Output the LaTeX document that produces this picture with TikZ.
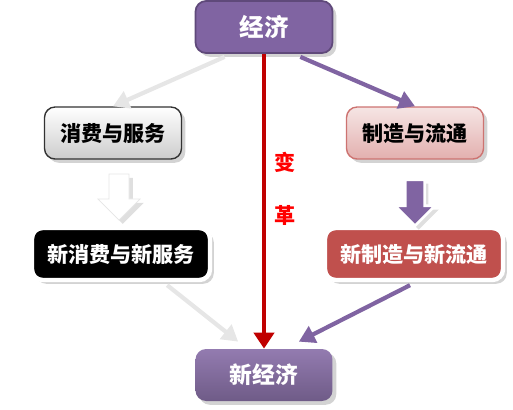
\documentclass[tikz,border=0pt]{standalone}
\usepackage{fontspec}
\usepackage{xcolor}
\usetikzlibrary{arrows.meta,positioning,calc,shadows,shapes.arrows}
\newfontfamily\cjk{Noto Sans CJK SC}
\definecolor{Purple}{HTML}{8064A2}
\definecolor{PurpleDark}{HTML}{5F497A}
\definecolor{Rose}{HTML}{C0504D}
\definecolor{Ink}{HTML}{000000}
\definecolor{Pale}{HTML}{E6E6E6}
\definecolor{Crimson}{HTML}{C00000}

\begin{document}
\begin{tikzpicture}[x=0.02cm,y=-0.02cm,
    box/.style={rounded corners=6pt, minimum width=2.74cm, minimum height=1.04cm,
      font=\cjk\bfseries\fontsize{12}{14}\selectfont, drop shadow={opacity=0.35}},
    flow/.style={line width=2.4pt, -{Triangle[length=3.2mm,width=3.6mm]}},
    blockarrow/.style={single arrow, shape border rotate=270, minimum width=0.8cm,
      single arrow head extend=0.2cm, single arrow tip angle=90, minimum height=0.92cm,
      inner sep=4.5pt, drop shadow={opacity=0.25}}]
        \useasboundingbox (0,0) rectangle (513,409);
        % top and bottom
        \node[box, fill=Purple, draw=PurpleDark, line width=1pt, text=white,
          font=\cjk\bfseries\fontsize{14}{16}\selectfont] (econ) at (264,27) {经济};
        \node[box, top color=Purple!85, bottom color=PurpleDark!90, draw=none, text=white,
          font=\cjk\bfseries\fontsize{13}{15}\selectfont] (neweco) at (264,375) {新经济};
        % first row
        \node[box, top color=white, bottom color=Pale!75!gray, draw=Ink!80, line width=0.8pt] (consume) at (113,133) {消费与服务};
        \node[box, top color=Rose!15, bottom color=Rose!45, draw=Rose!80, line width=0.8pt] (make) at (415,133) {制造与流通};
        % second row
        \node[box, minimum width=3.56cm, fill=Ink, draw=white, line width=2.5pt, text=white] (newconsume) at (121,254) {新消费与新服务};
        \node[box, minimum width=3.56cm, fill=Rose, draw=white, line width=2.5pt, text=white] (newmake) at (414,254) {新制造与新流通};
        % block arrows
        \node[blockarrow, inner sep=5.5pt, single arrow head extend=0.22cm,
          fill=white, draw=Pale] (down1) at (119,192) {};
        \node[blockarrow, fill=Purple, draw=white, line width=1.5pt] (down2) at (415,198) {};
        % connectors
        \coordinate (c1) at ($(econ.south west)+(30,3)$);
        \coordinate (c2) at ($(econ.south east)+(-33,3)$);
        \coordinate (c3) at ($(newconsume.south east)+(-45,3)$);
        \coordinate (c4) at ($(newmake.south)+(-4,3)$);
        \coordinate (t3) at ($(neweco.north west)+(43,-7)$);
        \coordinate (t4) at ($(neweco.north east)+(-34,-7)$);
        \draw[flow, Pale] (c1) -- (consume.north);
        \draw[flow, Purple] (c2) -- (make.north);
        \draw[flow, Pale] (c3) -- (t3);
        \draw[flow, Purple] (c4) -- (t4);
        \draw[line width=2.8pt, Crimson, -{Triangle[length=3.2mm,width=4mm]}] (econ.south) -- (neweco.north);
        \node[font=\cjk\bfseries\fontsize{12}{14}\selectfont, text=red] (bian) at (285,162) {变};
        \node[font=\cjk\bfseries\fontsize{12}{14}\selectfont, text=red] (ge) at (285,215) {革};
      \end{tikzpicture}
\end{document}
